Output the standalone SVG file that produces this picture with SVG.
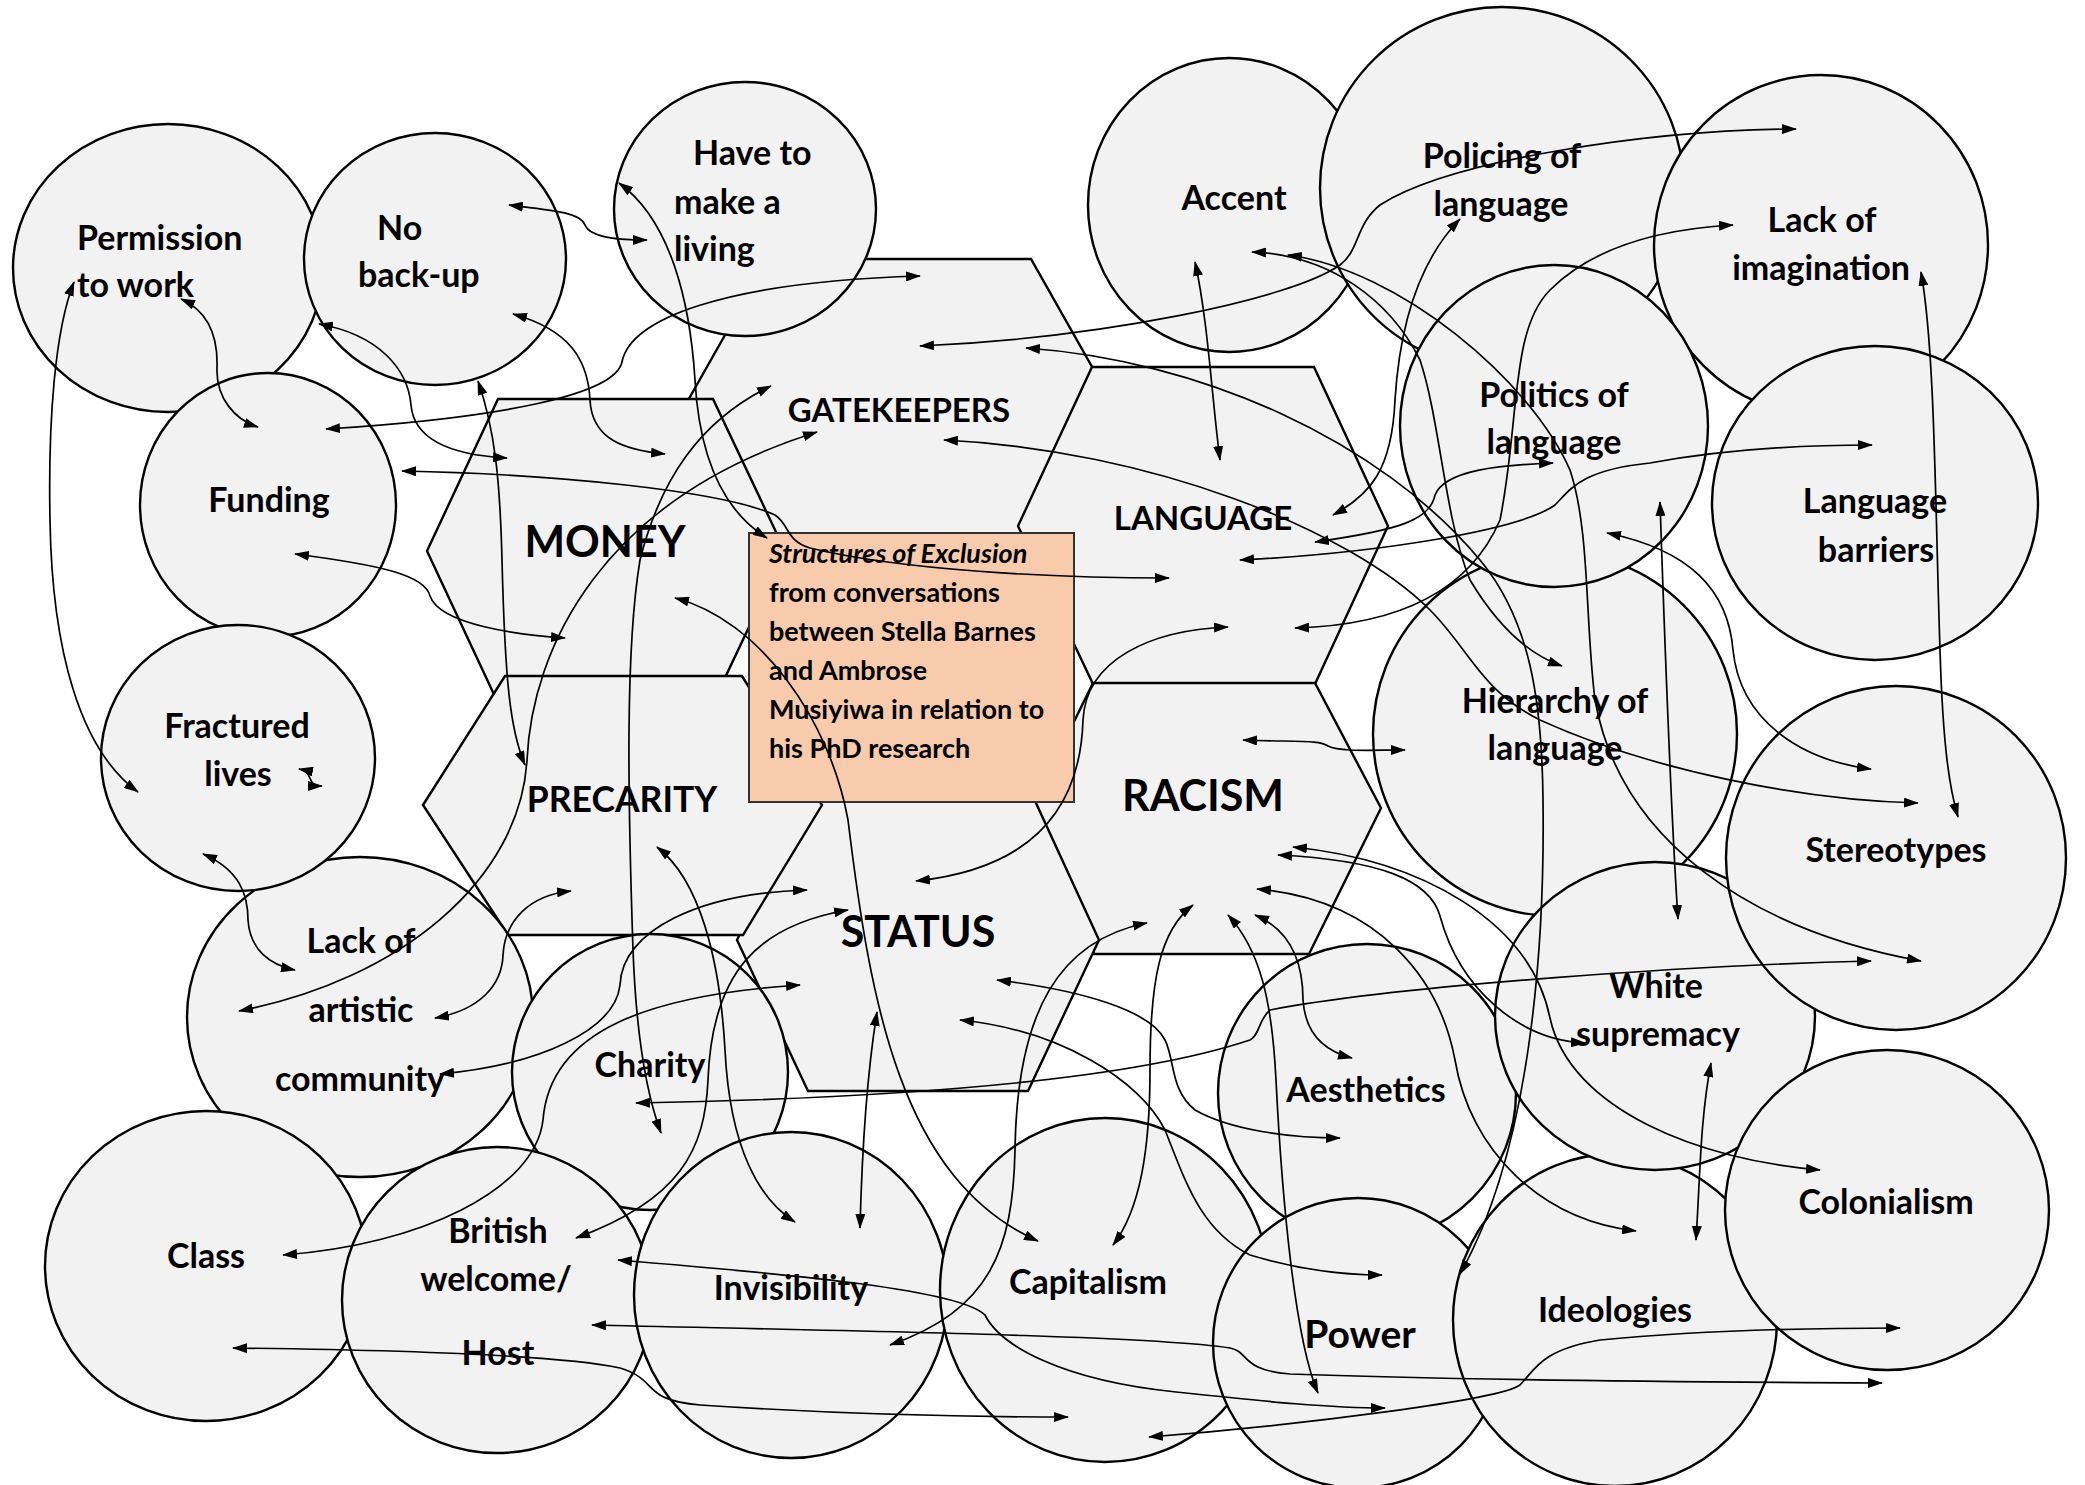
<svg xmlns="http://www.w3.org/2000/svg" width="2085" height="1485" viewBox="0 0 2085 1485">
<style>
.n{fill:#f2f2f2;stroke:#000;stroke-width:2.4}
.bx{fill:#f8cbad;stroke:#333;stroke-width:2}
#connectors path{fill:none;stroke:#000;stroke-width:1.7;marker-start:url(#a);marker-end:url(#a)}
text{font-family:Lato,"Liberation Sans",sans-serif;font-weight:700;fill:#000}
.l{font-size:34px;text-anchor:middle}
.s{font-size:34px}
.h{font-size:43px;text-anchor:middle}
.hm{font-size:33px;text-anchor:middle}
.b{font-size:27px}
</style>
<defs>
<marker id="a" viewBox="0 0 15 10" refX="14" refY="5" markerWidth="15" markerHeight="10" markerUnits="userSpaceOnUse" orient="auto-start-reverse"><path d="M0,0 L15,5 L0,10 z" fill="#000"/></marker>
</defs>
<rect width="2085" height="1485" fill="#fff"/>

<g id="hexes">
<g id="gatekeepers"><polygon class="n" points="682,411 768,259 1031,259 1117,411 1031,563 768,563"/><text class="hm" x="899" y="422">GATEKEEPERS</text></g>
<g id="money"><polygon class="n" points="427,551 498,399 713,399 785,551 713,703 498,703"/><text class="h" x="605" y="557">MONEY</text></g>
<g id="language"><polygon class="n" points="1018,526 1092,367 1314,367 1388,526 1315,684 1093,684"/><text class="hm" x="1203" y="530">LANGUAGE</text></g>
<g id="racism"><polygon class="n" points="1028,815 1093,683 1315,683 1381,808 1309,954 1094,954"/><text class="h" x="1203" y="811">RACISM</text></g>
<g id="status"><polygon class="n" points="737,940 808,790 1030,790 1099,940 1028,1091 808,1091"/><text class="h" x="918" y="947">STATUS</text></g>
<g id="precarity"><polygon class="n" points="423,805 505,676 742,676 822,805 743,935 508,935"/><text class="hm" x="622" y="812" style="font-size:35.5px">PRECARITY</text></g>
</g>

<g id="circles">
<g id="permission"><ellipse class="n" cx="168" cy="268" rx="155" ry="144"/><text class="s" x="77" y="250">Permission</text><text class="s" x="77" y="297">to work</text></g>
<g id="noback"><ellipse class="n" cx="435" cy="259" rx="131" ry="126"/><text class="s" x="377" y="240">No</text><text class="s" x="358" y="287">back-up</text></g>
<g id="haveto"><ellipse class="n" cx="745" cy="209" rx="131" ry="127"/><text class="s" x="693" y="165">Have to</text><text class="s" x="674" y="214">make a</text><text class="s" x="674" y="261">living</text></g>
<g id="funding"><ellipse class="n" cx="268" cy="505" rx="128" ry="132"/><text class="l" x="269" y="512">Funding</text></g>
<g id="lackart"><ellipse class="n" cx="360" cy="1017" rx="173" ry="160"/><text class="l" x="361" y="953">Lack of</text><text class="l" x="361" y="1022">artistic</text><text class="l" x="360" y="1091">community</text></g>
<g id="fractured"><ellipse class="n" cx="238" cy="758" rx="137" ry="133"/><text class="l" x="237" y="738">Fractured</text><text class="l" x="238" y="786">lives</text></g>
<g id="class"><ellipse class="n" cx="206" cy="1266" rx="161" ry="155"/><text class="l" x="206" y="1268">Class</text></g>
<g id="charity"><ellipse class="n" cx="650" cy="1072" rx="138" ry="138"/><text class="l" x="650" y="1077">Charity</text></g>
<g id="british"><ellipse class="n" cx="497" cy="1300" rx="155" ry="153"/><text class="l" x="498" y="1243">British</text><text class="l" x="496" y="1291">welcome/</text><text class="l" x="498" y="1365">Host</text></g>
<g id="invisibility"><ellipse class="n" cx="791" cy="1295" rx="157" ry="163"/><text class="l" x="791" y="1300">Invisibility</text></g>
<g id="capitalism"><ellipse class="n" cx="1105" cy="1290" rx="165" ry="172"/><text class="l" x="1088" y="1294">Capitalism</text></g>
<g id="aesthetics"><ellipse class="n" cx="1367" cy="1093" rx="149" ry="149"/><text class="l" x="1366" y="1102">Aesthetics</text></g>
<g id="power"><ellipse class="n" cx="1358" cy="1343" rx="145" ry="145"/><text class="l" x="1360" y="1348" style="font-size:39px">Power</text></g>
<g id="ideologies"><ellipse class="n" cx="1615" cy="1320" rx="162" ry="166"/><text class="l" x="1615" y="1322">Ideologies</text></g>
<g id="accent"><ellipse class="n" cx="1229" cy="205" rx="141" ry="147"/><text class="l" x="1234" y="210">Accent</text></g>
<g id="policing"><ellipse class="n" cx="1502" cy="188" rx="182" ry="181"/><text class="l" x="1502" y="168">Policing of</text><text class="l" x="1501" y="216">language</text></g>
<g id="imagination"><ellipse class="n" cx="1821" cy="245" rx="167" ry="170"/><text class="l" x="1822" y="232">Lack of</text><text class="l" x="1821" y="280">imagination</text></g>
<g id="barriers"><ellipse class="n" cx="1875" cy="503" rx="163" ry="157"/><text class="l" x="1875" y="513">Language</text><text class="l" x="1876" y="562">barriers</text></g>
<g id="hierarchy"><ellipse class="n" cx="1555" cy="734" rx="182" ry="182"/><text class="l" x="1555" y="713">Hierarchy of</text><text class="l" x="1555" y="760">language</text></g>
<g id="politics"><ellipse class="n" cx="1554" cy="426" rx="154" ry="161"/><text class="l" x="1554" y="407">Politics of</text><text class="l" x="1554" y="454">language</text></g>
<g id="whitesup"><ellipse class="n" cx="1655" cy="1016" rx="160" ry="154"/><text class="l" x="1656" y="998">White</text><text class="l" x="1658" y="1046">supremacy</text></g>
<g id="stereotypes"><ellipse class="n" cx="1896" cy="858" rx="170" ry="172"/><text class="l" x="1896" y="862">Stereotypes</text></g>
<g id="colonialism"><ellipse class="n" cx="1887" cy="1210" rx="162" ry="160"/><text class="l" x="1886" y="1214">Colonialism</text></g>
</g>

<g id="title-box">
<rect class="bx" x="749" y="533" width="325" height="269"/>
<text class="b" x="769" y="563" style="font-style:italic">Structures of Exclusion</text>
<text class="b" x="769" y="602">from conversations</text>
<text class="b" x="769" y="641">between Stella Barnes</text>
<text class="b" x="769" y="680">and Ambrose</text>
<text class="b" x="769" y="719">Musiyiwa in relation to</text>
<text class="b" x="769" y="758">his PhD research</text>
</g>

<g id="connectors">
<path d="M181,299 C210,312 218,340 217,368 C216,398 235,420 258,427"/>
<path d="M74,282 C55,330 48,420 50,520 C52,650 80,750 138,792"/>
<path d="M319,324 C380,335 408,370 411,405 C414,440 450,455 507,458"/>
<path d="M513,314 C570,330 588,360 590,400 C592,440 625,450 665,454"/>
<path d="M509,205 C550,210 580,212 585,225 C590,238 620,240 647,240"/>
<path d="M326,429 C500,418 615,395 622,362 C630,320 720,282 920,276"/>
<path d="M402,471 C550,474 720,490 775,515 C790,525 785,540 810,548 C900,570 1050,578 1169,578"/>
<path d="M295,554 C380,565 425,575 430,596 C440,625 520,635 565,638"/>
<path d="M478,381 C495,430 500,480 502,560 C505,680 510,730 525,765"/>
<path d="M771,386 C700,420 660,480 640,560 C625,650 628,800 633,950 C636,1030 645,1090 661,1133"/>
<path d="M239,1011 C400,980 520,880 527,760 C532,650 600,500 817,432"/>
<path d="M619,183 C670,220 690,300 695,380 C700,470 730,515 767,538"/>
<path d="M675,598 C760,620 830,720 848,820 C870,1000 900,1180 1038,1241"/>
<path d="M299,769 C315,772 305,786 322,786"/>
<path d="M203,854 C240,870 248,895 248,920 C250,950 270,965 295,970"/>
<path d="M435,1018 C480,1010 502,985 503,955 C505,920 530,895 571,891"/>
<path d="M440,1074 C540,1065 615,1030 620,985 C622,930 700,893 807,890"/>
<path d="M283,1255 C420,1245 535,1190 543,1120 C550,1030 650,995 800,985"/>
<path d="M576,1238 C680,1200 705,1150 708,1080 C712,970 760,925 848,910"/>
<path d="M657,847 C700,880 720,960 725,1050 C730,1150 760,1200 795,1222"/>
<path d="M877,1012 C866,1080 862,1150 860,1228"/>
<path d="M916,881 C1020,870 1080,820 1083,720 C1086,660 1150,630 1228,627"/>
<path d="M997,980 C1080,990 1150,1010 1165,1040 C1175,1060 1170,1090 1195,1110 C1230,1130 1290,1138 1340,1138"/>
<path d="M960,1020 C1060,1030 1140,1080 1165,1130 C1185,1180 1200,1230 1250,1255 C1300,1270 1340,1275 1382,1275"/>
<path d="M618,1260 C800,1275 960,1290 985,1315 C1000,1345 1060,1380 1176,1392 C1270,1402 1330,1408 1385,1408"/>
<path d="M592,1325 C800,1330 1150,1335 1230,1348 C1250,1352 1240,1370 1290,1374 C1450,1380 1700,1382 1882,1383"/>
<path d="M233,1348 C400,1350 560,1355 620,1368 C660,1380 640,1400 700,1405 C820,1413 950,1417 1068,1417"/>
<path d="M1149,1437 C1300,1425 1500,1400 1520,1385 C1535,1370 1540,1350 1600,1340 C1700,1330 1800,1328 1900,1328"/>
<path d="M890,1345 C990,1310 1013,1250 1015,1150 C1017,1010 1060,940 1147,923"/>
<path d="M1113,1245 C1140,1210 1150,1150 1150,1070 C1150,980 1160,930 1193,905"/>
<path d="M1228,915 C1260,950 1272,1000 1276,1080 C1282,1200 1295,1340 1318,1393"/>
<path d="M1255,915 C1290,930 1303,960 1303,1000 C1305,1030 1320,1050 1352,1058"/>
<path d="M1243,740 C1300,742 1320,740 1328,746 C1340,752 1370,750 1405,750"/>
<path d="M1278,855 C1380,860 1430,880 1440,916 C1460,990 1520,1040 1585,1043"/>
<path d="M1293,847 C1420,860 1530,920 1550,1018 C1570,1110 1700,1160 1820,1170"/>
<path d="M1257,889 C1380,900 1440,980 1455,1060 C1470,1150 1540,1220 1636,1231"/>
<path d="M1195,262 C1208,320 1212,400 1220,460"/>
<path d="M920,346 C1100,338 1290,300 1340,265 C1360,250 1355,225 1380,205 C1450,160 1650,130 1796,129"/>
<path d="M1026,348 C1200,360 1380,440 1480,560 C1530,620 1542,700 1543,800 C1545,950 1530,1150 1460,1274"/>
<path d="M944,440 C1150,450 1350,530 1430,610 C1470,650 1480,690 1540,720 C1650,770 1800,800 1918,803"/>
<path d="M1921,272 C1935,350 1935,500 1940,650 C1943,750 1950,790 1958,817"/>
<path d="M1607,533 C1690,550 1728,590 1733,650 C1740,720 1800,760 1871,769"/>
<path d="M1460,219 C1420,260 1400,320 1395,400 C1392,470 1370,495 1333,515"/>
<path d="M1315,542 C1400,530 1430,520 1435,495 C1445,470 1500,465 1553,463"/>
<path d="M1240,560 C1380,553 1520,530 1555,505 C1570,490 1580,470 1650,463 C1720,450 1800,445 1872,445"/>
<path d="M1295,628 C1400,625 1470,590 1500,520 C1520,420 1510,330 1550,290 C1600,240 1680,228 1733,225"/>
<path d="M1660,502 C1665,650 1670,800 1678,919"/>
<path d="M1711,1063 C1700,1120 1700,1180 1696,1240"/>
<path d="M636,1103 C800,1100 1100,1090 1250,1040 C1260,1035 1258,1020 1270,1010 C1400,985 1700,965 1871,961"/>
<path d="M1252,252 C1330,255 1390,300 1420,360 C1440,420 1445,520 1470,580 C1500,630 1530,655 1562,666"/>
<path d="M1288,255 C1400,270 1530,380 1570,470 C1590,530 1585,620 1595,700 C1620,840 1750,930 1921,961"/>
</g>
</svg>
